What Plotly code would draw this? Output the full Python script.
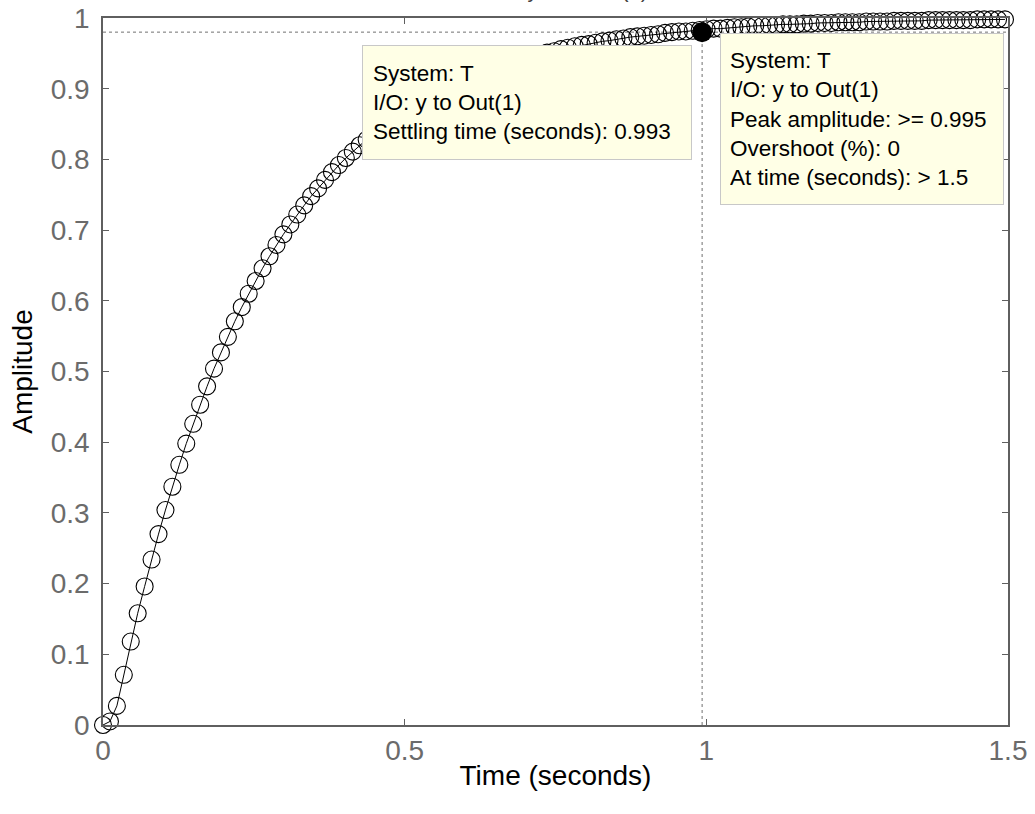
import plotly.graph_objects as go

# ---- data ----
time_s = [0, 0.0115, 0.023, 0.0345, 0.046, 0.0575, 0.069, 0.0805, 0.092, 0.1035,
          0.115, 0.1265, 0.138, 0.1495, 0.161, 0.1725, 0.184, 0.1955, 0.207, 0.2185,
          0.23, 0.2415, 0.253, 0.2645, 0.276, 0.2875, 0.299, 0.3105, 0.322, 0.3335,
          0.345, 0.3565, 0.368, 0.3795, 0.391, 0.4025, 0.414, 0.4255, 0.437, 0.4485,
          0.46, 0.4715, 0.483, 0.4945, 0.506, 0.5175, 0.529, 0.5405, 0.552, 0.5635,
          0.575, 0.5865, 0.598, 0.6095, 0.621, 0.6325, 0.644, 0.6555, 0.667, 0.6785,
          0.69, 0.7015, 0.713, 0.7245, 0.736, 0.7475, 0.759, 0.7705, 0.782, 0.7935,
          0.805, 0.8165, 0.828, 0.8395, 0.851, 0.8625, 0.874, 0.8855, 0.897, 0.9085,
          0.92, 0.9315, 0.943, 0.9545, 0.966, 0.9775, 0.989, 1.0005, 1.012, 1.0235,
          1.035, 1.0465, 1.058, 1.0695, 1.081, 1.0925, 1.104, 1.1155, 1.127, 1.1385,
          1.15, 1.1615, 1.173, 1.1845, 1.196, 1.2075, 1.219, 1.2305, 1.242, 1.2535,
          1.265, 1.2765, 1.288, 1.2995, 1.311, 1.3225, 1.334, 1.3455, 1.357, 1.3685,
          1.38, 1.3915, 1.403, 1.4145, 1.426, 1.4375, 1.449, 1.4605, 1.472, 1.4835,
          1.495]

amplitude = [0, 0.005, 0.027, 0.071, 0.118, 0.158, 0.196, 0.234, 0.270, 0.304,
             0.337, 0.368, 0.398, 0.426, 0.453, 0.479, 0.504, 0.527, 0.549, 0.571,
             0.591, 0.610, 0.628, 0.646, 0.663, 0.679, 0.694, 0.708, 0.722, 0.735,
             0.748, 0.759, 0.771, 0.782, 0.792, 0.802, 0.811, 0.820, 0.828, 0.837,
             0.844, 0.852, 0.859, 0.865, 0.872, 0.878, 0.883, 0.889, 0.894, 0.899,
             0.904, 0.908, 0.913, 0.917, 0.921, 0.925, 0.928, 0.932, 0.935, 0.938,
             0.941, 0.944, 0.946, 0.949, 0.951, 0.953, 0.956, 0.958, 0.960, 0.962,
             0.963, 0.965, 0.967, 0.968, 0.970, 0.971, 0.973, 0.974, 0.975, 0.976,
             0.977, 0.979, 0.980, 0.981, 0.981, 0.982, 0.983, 0.984, 0.985, 0.985,
             0.986, 0.987, 0.987, 0.988, 0.989, 0.989, 0.990, 0.990, 0.991, 0.991,
             0.991, 0.992, 0.992, 0.993, 0.993, 0.993, 0.994, 0.994, 0.994, 0.994,
             0.995, 0.995, 0.995, 0.995, 0.996, 0.996, 0.996, 0.996, 0.996, 0.997,
             0.997, 0.997, 0.997, 0.997, 0.997, 0.997, 0.998, 0.998, 0.998, 0.998,
             0.998]

settling_time = 0.993
settling_level = 0.98
peak_amplitude = 0.995
final_time = 1.5

x_ticks = [0, 0.5, 1, 1.5]
x_tick_labels = ["0", "0.5", "1", "1.5"]
y_ticks = [0, 0.1, 0.2, 0.3, 0.4, 0.5, 0.6, 0.7, 0.8, 0.9, 1]
y_tick_labels = ["0", "0.1", "0.2", "0.3", "0.4", "0.5", "0.6", "0.7", "0.8", "0.9", "1"]

FONT = "Liberation Sans, Arial, Helvetica, sans-serif"
AXIS_COLOR = "#5f5f5f"
TICK_COLOR = "#6b6b6b"

fig = go.Figure()

# step response (line + open circles)
fig.add_trace(go.Scatter(
    x=time_s, y=amplitude, mode="lines+markers",
    line=dict(color="black", width=1),
    marker=dict(symbol="circle-open", size=17, color="black", line=dict(width=1.1)),
    cliponaxis=False, showlegend=False, hoverinfo="skip",
))

# settling-time marker
fig.add_trace(go.Scatter(
    x=[settling_time], y=[settling_level], mode="markers",
    marker=dict(symbol="circle", size=20, color="black"),
    cliponaxis=False, showlegend=False, hoverinfo="skip",
))

# dotted reference lines
fig.add_shape(type="line", xref="x", yref="y", x0=0, x1=final_time,
              y0=settling_level, y1=settling_level,
              line=dict(color="#707070", width=1, dash="dot"), layer="below")
fig.add_shape(type="line", xref="x", yref="y", x0=settling_time, x1=settling_time,
              y0=0, y1=settling_level,
              line=dict(color="#707070", width=1, dash="dot"), layer="below")

# data tip boxes
tip_font = dict(family=FONT, size=22.5, color="black")
fig.add_annotation(
    xref="x", yref="y", x=0.4293, y=0.9618, xanchor="left", yanchor="top",
    text=("System: T<br>I/O: y to Out(1)<br>Settling time (seconds): "
          f"{settling_time:.3f}"),
    showarrow=False, align="left", valign="middle",
    width=308, height=93, borderpad=10,
    bgcolor="#FFFFE6", bordercolor="#C8C8C8", borderwidth=1, font=tip_font,
)
fig.add_annotation(
    xref="x", yref="y", x=1.0227, y=0.9788, xanchor="left", yanchor="top",
    text=("System: T<br>I/O: y to Out(1)<br>"
          f"Peak amplitude: >= {peak_amplitude:.3f}<br>Overshoot (%): 0<br>"
          f"At time (seconds): > {final_time:g}"),
    showarrow=False, align="left", valign="middle",
    width=264, height=152, borderpad=9,
    bgcolor="#FFFFE6", bordercolor="#C8C8C8", borderwidth=1, font=tip_font,
)

# clipped title at the very top
fig.add_annotation(
    xref="paper", yref="paper", x=0.5, y=1, xanchor="center", yanchor="bottom",
    yshift=14, text="From: y  To: Out(1)", showarrow=False,
    font=dict(family=FONT, size=22, color="#404040"),
)

fig.update_layout(
    width=1035, height=814,
    margin=dict(l=103, r=27, t=18, b=89, autoexpand=False),
    paper_bgcolor="white", plot_bgcolor="white",
    font=dict(family=FONT),
    xaxis=dict(
        range=[0, 1.5], tickmode="array", tickvals=x_ticks, ticktext=x_tick_labels,
        showgrid=False, zeroline=False, showline=True, linecolor=AXIS_COLOR, linewidth=1.5,
        mirror="ticks", ticks="inside", ticklen=6, tickcolor=AXIS_COLOR, tickwidth=1,
        tickfont=dict(family=FONT, size=28, color=TICK_COLOR),
        ticklabelstandoff=0, automargin=False,
        title=dict(text="Time (seconds)", font=dict(family=FONT, size=28, color="black"),
                   standoff=0),
    ),
    yaxis=dict(
        range=[0, 1], tickmode="array", tickvals=y_ticks, ticktext=y_tick_labels,
        showgrid=False, zeroline=False, showline=True, linecolor=AXIS_COLOR, linewidth=1.5,
        mirror="ticks", ticks="inside", ticklen=6, tickcolor=AXIS_COLOR, tickwidth=1,
        tickfont=dict(family=FONT, size=28, color=TICK_COLOR),
        ticklabelstandoff=6, automargin=False,
        title=dict(text="Amplitude", font=dict(family=FONT, size=28, color="black"),
                   standoff=10),
    ),
)

fig.write_html(
    "out.html",
    config={"displayModeBar": False},
    post_script="document.body.style.margin='0';document.body.style.overflow='hidden';",
)
